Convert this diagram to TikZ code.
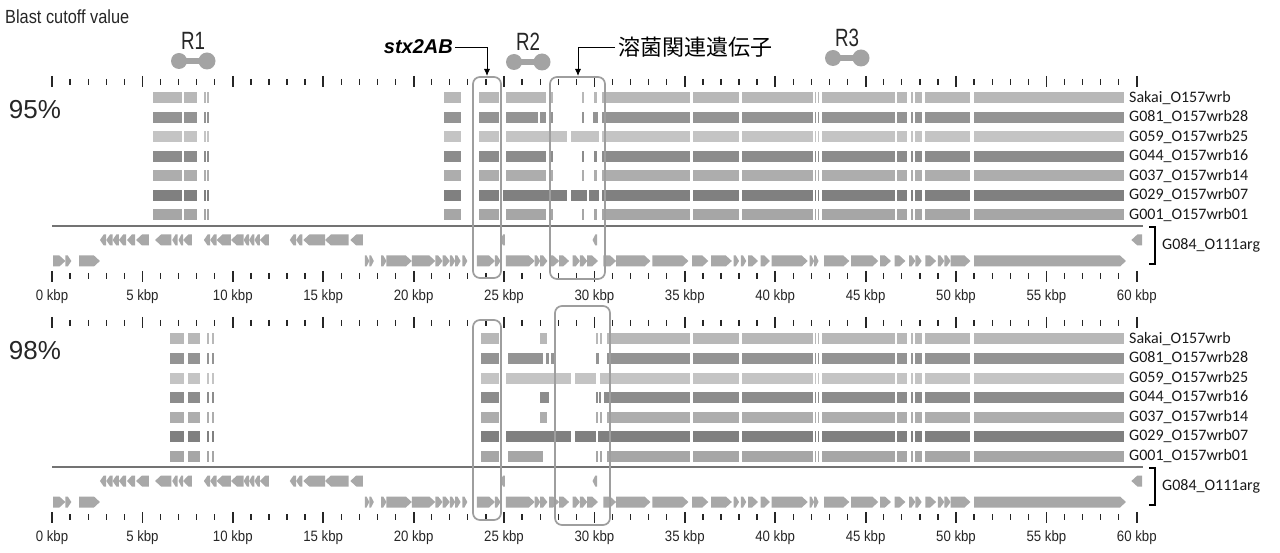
\documentclass[tikz,border=0pt]{standalone}
\usepackage{fontspec}
\setmainfont{Liberation Sans}
\newfontfamily\calfont{Carlito}
\newfontfamily\jpfont{Noto Sans CJK JP}
\usetikzlibrary{arrows.meta, positioning}

\definecolor{shA}{gray}{0.72}
\definecolor{shB}{gray}{0.58}
\definecolor{shC}{gray}{0.77}
\definecolor{shD}{gray}{0.55}
\definecolor{shE}{gray}{0.68}
\definecolor{shF}{gray}{0.50}
\definecolor{shG}{gray}{0.65}

\tikzset{
  rulertick/.style={line width=1.3pt, draw=black!85},
  majortick/.style={line width=1.8pt, draw=black!85},
  hitbox/.style={draw=black!38, line width=1.7pt, rounded corners=7pt},
  gene/.style={fill=black!34},
  dumbbell/.style={fill=black!36},
  rowlab/.style={anchor=west, inner sep=0pt, font=\calfont\fontsize{16}{16}\selectfont, text=black!90},
  kbplab/.style={inner sep=0pt, xscale=0.88, font=\fontsize{15}{15}\selectfont, text=black!85},
  region/.style={inner sep=0pt, xscale=0.75, font=\fontsize{25}{25}\selectfont, text=black!85},
}

% segments in kbp
\newcommand\tailsegs{35.45/38.0, 38.15/42.1, 42.2/42.26, 42.34/42.4, 42.6/46.6, 46.75/47.3, 47.5/47.62, 47.75/48.1, 48.3/50.8, 51.0/59.3}
\newcommand\hitrow[3]{%
  \foreach \s/\e in {#3} \fill[#2] (\s,#1-5.5) rectangle (\e,#1+5.5);
  \foreach \s/\e in \tailsegs \fill[#2] (\s,#1-5.5) rectangle (\e,#1+5.5);}
\newcommand\fwdlist{0.06/0.74, 0.74/1.07, 1.5/2.65, 17.3/17.55, 17.55/17.8, 18.2/18.5, 18.5/19.9, 19.9/21.2, 21.2/21.6, 21.6/22.0, 22.0/22.3, 22.3/22.6, 22.7/22.97, 23.5/24.5, 24.5/24.8, 25.1/26.7, 26.7/27.0, 27.0/27.4, 27.5/28.05, 28.05/28.6, 28.8/29.2, 29.2/29.6, 29.6/30.2, 30.5/31.2, 31.2/33.1, 33.2/35.2, 35.4/36.3, 36.45/37.6, 37.7/38.0, 38.1/38.4, 38.5/39.05, 39.2/39.7, 39.8/41.8, 41.9/42.15, 42.15/42.4, 42.7/44.1, 44.2/45.7, 45.8/46.4, 46.6/47.2, 47.4/47.75, 47.75/48.1, 48.3/48.9, 49.0/49.35, 49.35/49.7, 49.7/50.8, 51.0/59.4}
\newcommand\revlist{2.65/3.0, 3.0/3.35, 3.35/3.7, 3.7/4.1, 4.15/4.6, 4.65/5.36, 5.7/6.6, 6.65/6.95, 7.0/7.25, 7.25/7.73, 8.4/8.75, 8.75/9.1, 9.1/9.9, 9.9/10.6, 10.6/10.9, 10.9/11.2, 11.2/11.5, 11.5/12.0, 13.15/13.5, 13.5/13.85, 13.9/15.1, 15.1/16.4, 16.5/17.2, 24.8/25.05, 29.9/30.15, 59.7/60.3}

\begin{document}
\begin{tikzpicture}[x=1pt, y=-1pt]
\useasboundingbox (0,0) rectangle (1280,553);

\node[anchor=west, inner sep=0pt, xscale=0.86, font=\fontsize{19}{19}\selectfont, text=black!85] (title) at (5,17) {Blast cutoff value};

% regions R1-R3
\foreach \nm/\cx/\cy in {R1/193/61, R2/528/62, R3/847/58}{
  \fill[dumbbell] (\cx-14,\cy-3) rectangle (\cx+14,\cy+3);
  \fill[dumbbell] (\cx-14,\cy) circle[radius=8pt];
  \fill[dumbbell] (\cx+14,\cy) circle[radius=8.5pt];
  \node[region] (\nm) at (\cx,\cy-20) {\nm};
}

% labels with arrows
\node[anchor=east, inner sep=2pt, font=\bfseries\itshape\fontsize{20}{20}\selectfont] (stx) at (455,47) {stx2AB};
\node[anchor=west, inner sep=3pt, font=\jpfont\fontsize{22}{22}\selectfont] (lysis) at (615,47) {溶菌関連遺伝子};
\coordinate (stxtop) at (487,76);
\coordinate (lysistop) at (578,76);
\draw[line width=0.9pt, -{Latex[length=7pt,width=6pt]}] (stx.east) -| (stxtop);
\draw[line width=0.9pt, -{Latex[length=7pt,width=6pt]}] (lysis.west) -| (lysistop);

% two panels
\foreach \dy/\pct in {0/95, 241/98}{
  \begin{scope}[yshift=-\dy pt]
    \node[inner sep=0pt, font=\fontsize{26}{26}\selectfont, text=black!85] (pct\pct) at (35,110) {\pct\%};
    \begin{scope}[xshift=52pt, x=18.08pt]
      \foreach \k in {0,...,60} {
        \draw[rulertick] (\k,79) -- (\k,85);
        \draw[rulertick] (\k,273) -- (\k,279);
      }
      \foreach \k in {0,5,...,60} {
        \draw[majortick] (\k,76) -- (\k,87);
        \draw[majortick] (\k,271) -- (\k,282);
        \node[kbplab] (k\pct-\k) at (\k,297) {\k\ kbp};
      }
      \draw[line width=1.8pt, black!55] (0,226) -- (60.35,226);
      \foreach \s/\e in \fwdlist {
        \pgfmathsetmacro\hd{min(0.33,0.6*(\e-\s))}
        \fill[gene] (\s,255.5) -- (\e-\hd,255.5) -- (\e,261) -- (\e-\hd,266.5) -- (\s,266.5) -- cycle;
      }
      \foreach \s/\e in \revlist {
        \pgfmathsetmacro\hd{min(0.33,0.6*(\e-\s))}
        \fill[gene] (\e,234.5) -- (\s+\hd,234.5) -- (\s,240) -- (\s+\hd,245.5) -- (\e,245.5) -- cycle;
      }
    \end{scope}
    \foreach \nm [count=\i from 0] in {Sakai\_O157wrb, G081\_O157wrb28, G059\_O157wrb25, G044\_O157wrb16, G037\_O157wrb14, G029\_O157wrb07, G001\_O157wrb01}
      \node[rowlab] (lab\pct-\i) at (1129,98+19.5*\i) {\nm};
    \draw[line width=1.6pt] (1149,227) -- (1155,227) -- (1155,264) -- (1149,264);
    \node[rowlab] (ref\pct) at (1162,245) {G084\_O111arg};
  \end{scope}
}

% 95% hits
\begin{scope}[xshift=52pt, x=18.08pt]
  \hitrow{98}{shA}{5.6/7.2, 7.3/8.0, 8.4/8.5, 8.6/8.7, 21.7/22.6, 23.6/24.7, 25.1/27.3, 27.55/27.7, 29.3/29.4, 29.95/30.15, 30.4/35.3}
  \hitrow{117.5}{shB}{5.6/7.2, 7.3/8.0, 8.4/8.5, 8.6/8.7, 21.7/22.6, 23.6/24.7, 25.1/26.9, 27.0/27.3, 27.55/27.7, 29.3/29.4, 29.9/30.2, 30.4/35.3}
  \hitrow{137}{shC}{5.6/7.2, 7.3/8.0, 8.4/8.5, 8.6/8.7, 21.7/22.6, 23.6/24.7, 25.1/28.5, 28.7/30.25, 30.4/35.3}
  \hitrow{156.5}{shD}{5.6/7.2, 7.3/8.0, 8.4/8.5, 8.6/8.7, 21.7/22.6, 23.6/24.7, 25.1/27.3, 27.55/27.7, 29.3/29.4, 29.95/30.15, 30.4/35.3}
  \hitrow{176}{shE}{5.6/7.2, 7.3/8.0, 8.4/8.5, 8.6/8.7, 21.7/22.6, 23.6/24.7, 25.1/27.3, 27.55/27.7, 29.3/29.4, 29.95/30.15, 30.4/35.3}
  \hitrow{195.5}{shF}{5.6/7.2, 7.3/8.0, 8.4/8.5, 8.6/8.7, 21.7/22.6, 23.6/24.7, 24.95/28.5, 28.7/29.6, 29.7/30.25, 30.4/35.3}
  \hitrow{215}{shG}{5.6/7.2, 7.3/8.0, 8.4/8.5, 8.6/8.7, 21.7/22.6, 23.6/24.7, 25.1/27.3, 27.55/27.7, 29.3/29.4, 29.95/30.15, 30.4/35.3}
% 98% hits
  \hitrow{339}{shA}{6.5/7.3, 7.5/8.2, 8.6/8.7, 8.85/8.95, 23.75/24.7, 27.0/27.4, 30.1/30.2, 30.3/30.4, 30.7/35.3}
  \hitrow{358.5}{shB}{6.5/7.3, 7.5/8.2, 8.6/8.7, 8.85/8.95, 23.75/24.7, 25.2/27.15, 27.35/27.5, 27.6/27.9, 30.1/30.25, 30.7/35.3}
  \hitrow{378}{shC}{6.5/7.3, 7.5/8.2, 8.6/8.7, 8.85/8.95, 23.75/24.7, 25.1/28.7, 28.95/30.1, 30.3/35.3}
  \hitrow{397.5}{shD}{6.5/7.3, 7.5/8.2, 8.6/8.7, 8.85/8.95, 23.75/24.7, 27.0/27.5, 30.1/30.2, 30.28/30.38, 30.55/35.3}
  \hitrow{417}{shE}{6.5/7.3, 7.5/8.2, 8.6/8.7, 8.85/8.95, 23.75/24.7, 27.0/27.4, 30.1/30.2, 30.3/30.4, 30.7/35.3}
  \hitrow{436.5}{shF}{6.5/7.3, 7.5/8.2, 8.6/8.7, 8.85/8.95, 23.75/24.7, 25.1/27.8, 27.9/28.7, 28.95/30.1, 30.2/35.3}
  \hitrow{456}{shG}{6.5/7.3, 7.5/8.2, 8.6/8.7, 8.85/8.95, 23.75/24.7, 25.2/27.15, 30.1/30.2, 30.3/30.4, 30.7/35.3}
\end{scope}

% boxes round stx2AB and the lysis genes
\draw[hitbox] (473,77) rectangle (501,278);
\draw[hitbox] (550,77) rectangle (605,279);
\draw[hitbox] (473,320) rectangle (501,520);
\draw[hitbox] (555,306) rectangle (610,525);
\end{tikzpicture}
\end{document}
